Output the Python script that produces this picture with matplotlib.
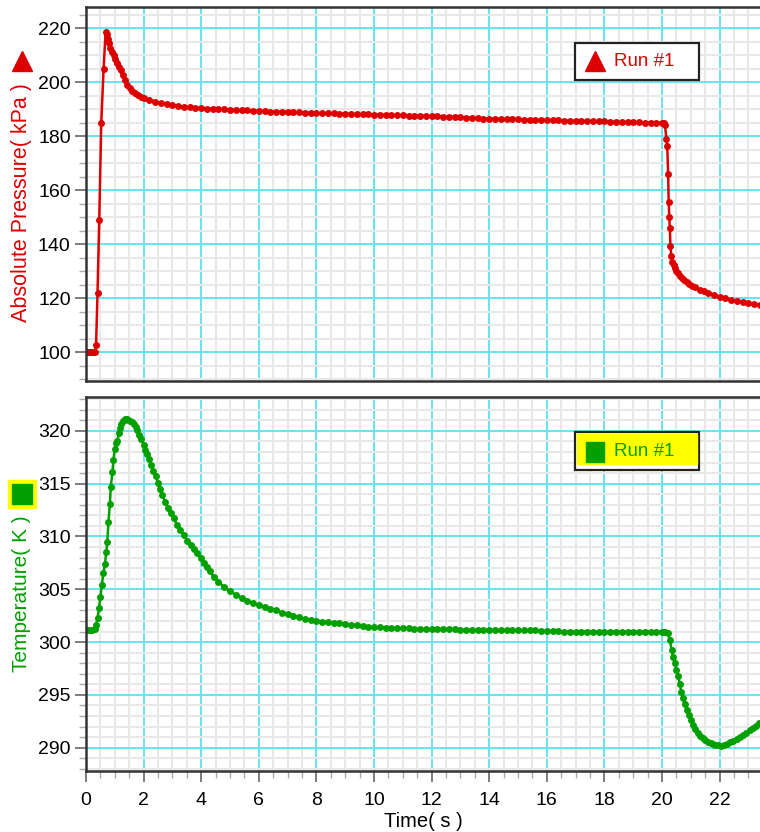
import numpy as np
import matplotlib
matplotlib.use("Agg")
import matplotlib.pyplot as plt
from matplotlib.patches import Rectangle
from matplotlib.lines import Line2D

plt.rcParams['font.family'] = ['Liberation Sans', 'DejaVu Sans']

# ---- Absolute pressure (kPa) ----
t_press = [0.00, 0.05, 0.10, 0.15, 0.20, 0.25, 0.30, 0.35, 0.40, 0.46, 0.53, 0.61, 0.68,
           0.72, 0.76, 0.80, 0.85, 0.90, 0.96, 1.02, 1.08, 1.14, 1.20, 1.27, 1.35, 1.43,
           1.52, 1.61, 1.70, 1.80, 1.90, 2.00,
           2.2, 2.4, 2.6, 2.8, 3.0, 3.2, 3.4, 3.6, 3.8, 4.0,
           4.2, 4.4, 4.6, 4.8, 5.0, 5.2, 5.4, 5.6, 5.8, 6.0,
           6.2, 6.4, 6.6, 6.8, 7.0, 7.2, 7.4, 7.6, 7.8, 8.0,
           8.2, 8.4, 8.6, 8.8, 9.0, 9.2, 9.4, 9.6, 9.8, 10.0,
           10.2, 10.4, 10.6, 10.8, 11.0, 11.2, 11.4, 11.6, 11.8, 12.0,
           12.2, 12.4, 12.6, 12.8, 13.0, 13.2, 13.4, 13.6, 13.8, 14.0,
           14.2, 14.4, 14.6, 14.8, 15.0, 15.2, 15.4, 15.6, 15.8, 16.0,
           16.2, 16.4, 16.6, 16.8, 17.0, 17.2, 17.4, 17.6, 17.8, 18.0,
           18.2, 18.4, 18.6, 18.8, 19.0, 19.2, 19.4, 19.6, 19.8, 20.0,
           20.05, 20.10, 20.15, 20.18, 20.21, 20.23, 20.25, 20.27, 20.29, 20.32,
           20.36, 20.40, 20.44, 20.50, 20.56, 20.62, 20.68, 20.75, 20.85, 20.95,
           21.05, 21.15, 21.30, 21.45, 21.60, 21.80, 22.0, 22.2, 22.4, 22.6,
           22.8, 23.0, 23.2, 23.4]
pressure = [100, 100, 100, 100, 100, 100, 100, 102.6, 122, 149, 185, 204.7, 218.6,
            217.8, 215.8, 214.3, 212.8, 211.3, 210.0, 208.5, 207.0, 205.6, 204.4, 202.6, 200.8, 198.9,
            197.8, 196.8, 196.1, 195.3, 194.6, 194.0,
            193.4, 192.8, 192.2, 191.8, 191.4, 191.1, 190.9, 190.7, 190.5, 190.3,
            190.2, 190.1, 190.0, 189.9, 189.8, 189.7, 189.6, 189.5, 189.4, 189.3,
            189.2, 189.1, 189.0, 189.0, 188.9, 188.8, 188.8, 188.7, 188.6, 188.5,
            188.5, 188.4, 188.4, 188.3, 188.3, 188.2, 188.1, 188.1, 188.0, 187.9,
            187.9, 187.8, 187.8, 187.7, 187.7, 187.6, 187.6, 187.5, 187.5, 187.4,
            187.3, 187.2, 187.1, 187.0, 186.9, 186.8, 186.7, 186.6, 186.5, 186.4,
            186.4, 186.3, 186.3, 186.2, 186.2, 186.1, 186.0, 186.0, 185.9, 185.9,
            185.8, 185.8, 185.7, 185.7, 185.6, 185.6, 185.5, 185.5, 185.4, 185.4,
            185.3, 185.3, 185.2, 185.2, 185.1, 185.1, 185.0, 185.0, 184.9, 184.9,
            184.7, 184.0, 179.0, 176.3, 166.0, 155.7, 150.0, 146.0, 139.4, 135.5,
            133.5, 132.2, 131.3, 130.2, 129.2, 128.3, 127.4, 126.6, 125.8, 125.1,
            124.5, 124.0, 123.0, 122.5, 122.0, 121.3, 120.5, 120.0, 119.4, 118.9,
            118.5, 118.1, 117.7, 117.3]

# ---- Temperature (K) ----
t_temp = [0.00, 0.10, 0.20, 0.30, 0.35, 0.40, 0.45, 0.50, 0.55, 0.60, 0.66, 0.70, 0.74,
          0.78, 0.83, 0.86, 0.92, 0.95, 1.00, 1.05, 1.09, 1.14, 1.18, 1.23, 1.28, 1.34,
          1.41, 1.47, 1.53, 1.60, 1.66, 1.72, 1.78, 1.85, 1.92, 2.00, 2.06, 2.12, 2.18,
          2.26, 2.34, 2.42, 2.50, 2.58, 2.65, 2.75, 2.85, 2.94, 3.05, 3.16, 3.28, 3.40,
          3.52, 3.63, 3.75, 3.87, 3.98, 4.10, 4.20, 4.30, 4.43, 4.6, 4.8, 5.0,
          5.2, 5.4, 5.6, 5.8, 6.0, 6.2, 6.4, 6.6, 6.8, 7.0, 7.2, 7.4, 7.6, 7.8, 8.0,
          8.2, 8.4, 8.6, 8.8, 9.0, 9.2, 9.4, 9.6, 9.8, 10.0,
          10.2, 10.4, 10.6, 10.8, 11.0, 11.2, 11.4, 11.6, 11.8, 12.0,
          12.2, 12.4, 12.6, 12.8, 13.0, 13.2, 13.4, 13.6, 13.8, 14.0,
          14.2, 14.4, 14.6, 14.8, 15.0, 15.2, 15.4, 15.6, 15.8, 16.0,
          16.2, 16.4, 16.6, 16.8, 17.0, 17.2, 17.4, 17.6, 17.8, 18.0,
          18.2, 18.4, 18.6, 18.8, 19.0, 19.2, 19.4, 19.6, 19.8, 20.0,
          20.10, 20.20, 20.27, 20.33, 20.38, 20.44, 20.50, 20.56, 20.62, 20.67,
          20.73, 20.79, 20.85, 20.92, 21.00, 21.08, 21.16, 21.25, 21.33, 21.42,
          21.50, 21.60, 21.70, 21.77, 21.85, 21.95, 22.06, 22.15, 22.25, 22.35,
          22.46, 22.60, 22.70, 22.80, 22.93, 23.05, 23.15, 23.25, 23.38]
temperature = [301.1, 301.1, 301.1, 301.2, 301.6, 302.3, 303.2, 304.3, 305.4, 306.5, 307.4, 308.5, 309.5,
               311.4, 313.1, 314.7, 316.1, 317.2, 318.3, 318.8, 319.0, 319.8, 320.3, 320.6, 320.9, 321.1,
               321.1, 321.0, 320.9, 320.8, 320.6, 320.4, 320.1, 319.6, 319.2, 318.7, 318.2, 317.8, 317.3,
               316.8, 316.2, 315.7, 315.1, 314.5, 313.9, 313.3, 312.7, 312.2, 311.7, 311.1, 310.6, 310.1,
               309.6, 309.2, 308.8, 308.4, 308.0, 307.5, 307.1, 306.7, 306.2, 305.7, 305.2, 304.8,
               304.5, 304.2, 303.9, 303.7, 303.5, 303.3, 303.1, 303.0, 302.8, 302.7, 302.5, 302.4, 302.2, 302.1, 302.0,
               301.95, 301.9, 301.85, 301.8, 301.7, 301.65, 301.6, 301.5, 301.45, 301.4,
               301.4, 301.35, 301.35, 301.3, 301.3, 301.3, 301.25, 301.25, 301.2, 301.2,
               301.2, 301.2, 301.2, 301.2, 301.15, 301.15, 301.15, 301.15, 301.15, 301.15,
               301.1, 301.1, 301.1, 301.1, 301.1, 301.1, 301.1, 301.1, 301.05, 301.05,
               301.05, 301.05, 301.0, 301.0, 301.0, 301.0, 301.0, 301.0, 301.0, 301.0,
               301.0, 301.0, 301.0, 301.0, 301.0, 301.0, 301.0, 301.0, 301.0, 301.0,
               301.0, 300.9, 300.2, 299.3, 298.6, 298.0, 297.4, 296.8, 296.0, 295.3,
               294.7, 294.1, 293.6, 293.1, 292.6, 292.2, 291.8, 291.4, 291.1, 290.9,
               290.7, 290.55, 290.45, 290.4, 290.3, 290.25, 290.2, 290.25, 290.35, 290.5,
               290.6, 290.85, 291.0, 291.2, 291.4, 291.65, 291.85, 292.05, 292.3]

RED = '#dd0000'
GREEN = '#00a000'
CYAN = '#66e4ee'
MINOR = '#e8e8e8'

W, H = 760, 832
fig = plt.figure(figsize=(W / 100, H / 100), dpi=100)

def fx(px):
    return px / W

def fy(py):
    return 1 - py / H

ax1 = fig.add_axes([fx(86), fy(381), 1 - fx(86), fy(7) - fy(381)])
ax2 = fig.add_axes([fx(86), fy(771), 1 - fx(86), fy(397) - fy(771)])

ax1.plot(t_press, pressure, '-o', color=RED, lw=1.8, markersize=5, markeredgewidth=0)
ax2.plot(t_temp, temperature, '-o', color=GREEN, lw=1.8, markersize=5, markeredgewidth=0)

ax1.set_ylim(89.3, 227.8)
ax2.set_ylim(287.8, 323.2)
ax1.set_yticks([100, 120, 140, 160, 180, 200, 220])
ax1.set_yticks(np.arange(90, 230, 5), minor=True)
ax2.set_yticks([290, 295, 300, 305, 310, 315, 320])
ax2.set_yticks(np.arange(288, 324, 1), minor=True)

for ax in (ax1, ax2):
    ax.set_xlim(0, 23.4)
    ax.set_xticks(np.arange(0, 24, 2))
    ax.set_xticks(np.arange(0, 23.5, 0.5), minor=True)
    ax.grid(True, which='minor', color=MINOR, lw=1.5, zorder=0)
    ax.grid(True, which='major', color=CYAN, lw=1.4, zorder=0)
    ax.set_axisbelow(True)
    for s in ('left', 'top', 'bottom'):
        ax.spines[s].set_linewidth(1.8)
        ax.spines[s].set_color('#333333')
    ax.spines['right'].set_visible(False)
    ax.tick_params(which='major', direction='out', length=8, width=1.2, color='#666666',
                   labelsize=14, pad=3)
    ax.tick_params(which='minor', direction='out', length=5, width=1, color='#aaaaaa')
    ax.tick_params(axis='x', which='major', pad=7)

ax1.tick_params(axis='x', which='both', bottom=False, labelbottom=False)

ax2.set_xlabel('Time( s )', fontsize=14.5, labelpad=2)

# y-axis labels with series symbols
fig.text(fx(22), fy(203), 'Absolute Pressure( kPa )', rotation=90, color=RED,
         fontsize=15.5, ha='center', va='center')
fig.add_artist(Line2D([fx(22)], [fy(61)], marker='^', markersize=15, color=RED,
                      transform=fig.transFigure))
fig.text(fx(22), fy(594), 'Temperature( K )', rotation=90, color=GREEN,
         fontsize=15, ha='center', va='center')
fig.add_artist(Rectangle((fx(8), fy(508)), 28 / W, 28 / H, color='#ffff00',
                         transform=fig.transFigure))
fig.add_artist(Rectangle((fx(12), fy(504)), 20 / W, 20 / H, color=GREEN,
                         transform=fig.transFigure))

# legend boxes
fig.add_artist(Rectangle((fx(575), fy(80)), 124 / W, 37 / H, facecolor='white',
                         edgecolor='#222222', lw=1.6, transform=fig.transFigure, zorder=5))
fig.add_artist(Line2D([fx(595)], [fy(61)], marker='^', markersize=15, color=RED,
                      transform=fig.transFigure, zorder=6))
fig.text(fx(614), fy(62), 'Run #1', color=RED, fontsize=13.5, va='center', zorder=6)

fig.add_artist(Rectangle((fx(575), fy(470)), 124 / W, 38 / H, facecolor='white',
                         edgecolor='#222222', lw=1.6, transform=fig.transFigure, zorder=5))
fig.add_artist(Rectangle((fx(577), fy(464)), 120 / W, 30 / H, color='#ffff00',
                         transform=fig.transFigure, zorder=6))
fig.add_artist(Rectangle((fx(586), fy(462)), 18 / W, 20 / H, color=GREEN,
                         transform=fig.transFigure, zorder=7))
fig.text(fx(614), fy(451), 'Run #1', color=GREEN, fontsize=13.5, va='center', zorder=7)

fig.savefig('out.png', dpi=100)
